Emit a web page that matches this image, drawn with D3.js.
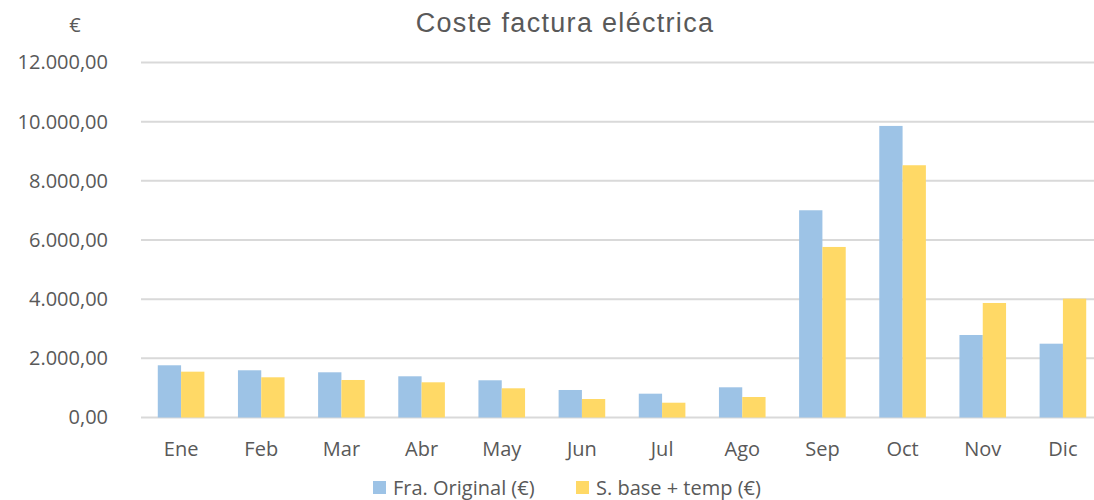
<!DOCTYPE html>
<html>
<head>
<meta charset="utf-8">
<script src="https://cdn.jsdelivr.net/npm/d3@7"></script>
<style>
  body { margin: 0; background: #fff; }
  text { font-family: "Open Sans", sans-serif; fill: #595959; }
</style>
</head>
<body>
<div id="chart-area"></div>
<script>
// Data
var months = ["Ene", "Feb", "Mar", "Abr", "May", "Jun", "Jul", "Ago", "Sep", "Oct", "Nov", "Dic"];
var original = [1765, 1596, 1528, 1393, 1258, 930, 805, 1021, 7005, 9856, 2789, 2495];
var sBase = [1549, 1359, 1268, 1190, 987, 625, 500, 693, 5765, 8527, 3871, 4017];
var seriesNames = ["Fra. Original (€)", "S. base + temp (€)"];
var yTicks = [0, 2000, 4000, 6000, 8000, 10000, 12000];

var color = ["#9DC3E6", "#FFD966"];

var W = 1094, H = 500;
var plotLeft = 141, plotRight = 1103, plotTop = 62.5, plotBottom = 417.5;

var svg = d3.select("#chart-area")
    .append("svg")
        .attr("width", W)
        .attr("height", H);

var data = months.map(function(m, i) {
    return { month: m, values: [original[i], sBase[i]] };
});

// X Scale
var x = d3.scaleBand()
    .domain(months)
    .range([plotLeft, plotRight]);

var groupW = x.bandwidth() / 1.72;

var x1 = d3.scaleBand()
    .domain([0, 1])
    .range([0, groupW])
    .padding(0);

// Y Scale
var y = d3.scaleLinear()
    .domain([0, 12000])
    .range([plotBottom, plotTop]);

var fmt = function(d) {
    return d3.format(",.2f")(d).replace(/,/g, "X").replace(".", ",").replace(/X/g, ".");
};

// Grid lines
svg.append("g")
    .selectAll("line")
    .data(yTicks)
    .enter()
    .append("line")
        .attr("x1", plotLeft)
        .attr("x2", W)
        .attr("y1", function(d) { return y(d); })
        .attr("y2", function(d) { return y(d); })
        .attr("stroke", "#D9D9D9")
        .attr("stroke-width", 2);

// Y Axis labels
var yAxis = d3.axisLeft(y)
    .tickValues(yTicks)
    .tickFormat(fmt)
    .tickSize(0)
    .tickPadding(33);
var yg = svg.append("g")
    .attr("transform", "translate(" + plotLeft + ",0)")
    .call(yAxis);
yg.select(".domain").remove();
yg.selectAll("text")
    .attr("font-size", "20px")
    .attr("font-family", "Open Sans")
    .attr("fill", "#595959");

// X Axis labels
var xAxis = d3.axisBottom(x).tickSize(0).tickPadding(24);
var xg = svg.append("g")
    .attr("transform", "translate(0," + plotBottom + ")")
    .call(xAxis);
xg.select(".domain").remove();
xg.selectAll("text")
    .attr("font-size", "20px")
    .attr("font-family", "Open Sans")
    .attr("fill", "#595959");

// Bars
var groups = svg.append("g")
    .selectAll("g")
    .data(data)
    .enter()
    .append("g")
        .attr("transform", function(d) {
            return "translate(" + (x(d.month) + (x.bandwidth() - groupW) / 2) + ",0)";
        });

groups.selectAll("rect")
    .data(function(d) { return d.values; })
    .enter()
    .append("rect")
        .attr("x", function(d, i) { return x1(i); })
        .attr("y", function(d) { return y(d); })
        .attr("width", x1.bandwidth())
        .attr("height", function(d) { return plotBottom - y(d); })
        .attr("fill", function(d, i) { return color[i]; });

// Title
svg.append("text")
    .attr("x", 565)
    .attr("y", 32)
    .attr("text-anchor", "middle")
    .attr("font-size", "27px")
    .attr("letter-spacing", "1.3px")
    .style("font-family", "'Liberation Sans', Arial, sans-serif")
    .text("Coste factura eléctrica");

// Unit label
svg.append("text")
    .attr("x", 75)
    .attr("y", 32)
    .attr("text-anchor", "middle")
    .attr("font-size", "20px")
    .text("€");

// Legend
var legendX = [373, 576];
var legend = svg.append("g")
    .selectAll("g")
    .data(seriesNames)
    .enter()
    .append("g")
        .attr("transform", function(d, i) { return "translate(" + legendX[i] + ",481)"; });

legend.append("rect")
    .attr("width", 13)
    .attr("height", 13)
    .attr("fill", function(d, i) { return color[i]; });

legend.append("text")
    .attr("x", 20)
    .attr("y", 14)
    .attr("font-size", "20px")
    .text(function(d) { return d; });
</script>
</body>
</html>
